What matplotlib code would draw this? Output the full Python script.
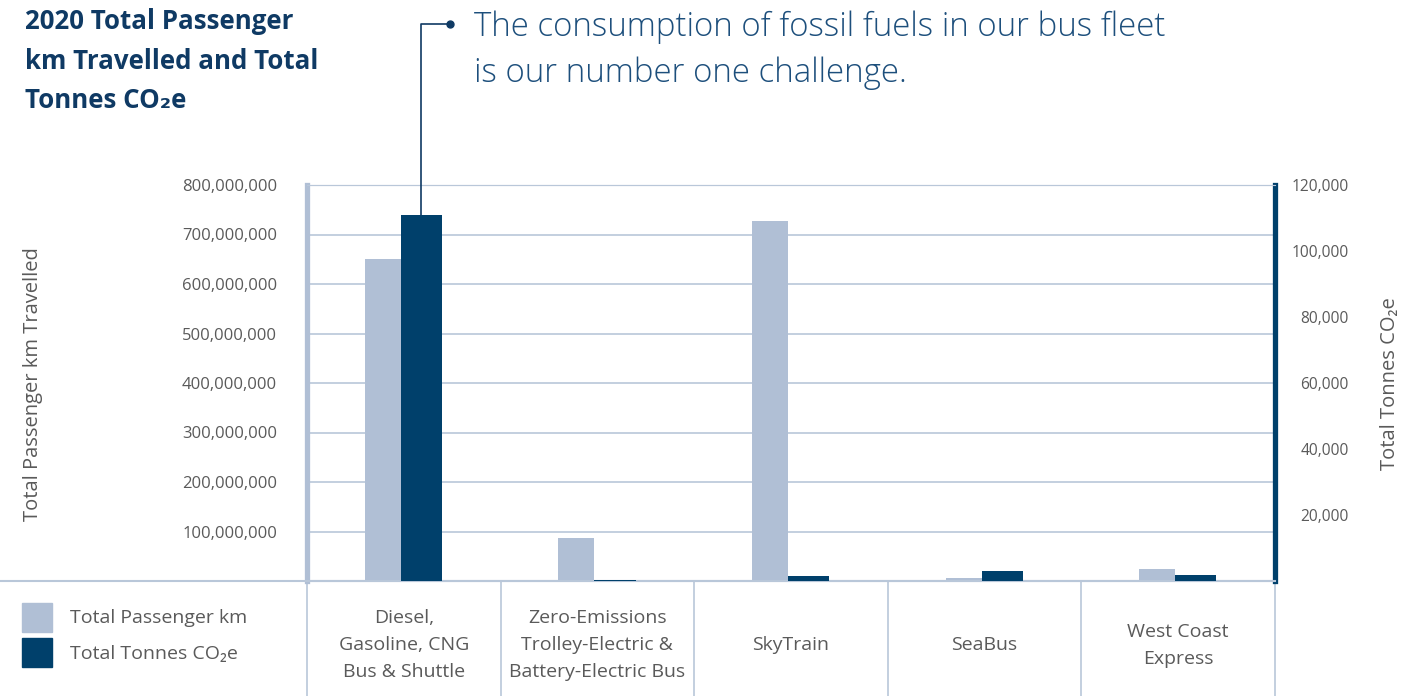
import matplotlib
matplotlib.use('Agg')
import matplotlib.pyplot as plt
from matplotlib.lines import Line2D
from matplotlib.ticker import FuncFormatter
import numpy as np

plt.rcParams['font.family'] = ['Open Sans', 'DejaVu Sans']

categories = ['Diesel,\nGasoline, CNG\nBus & Shuttle',
              'Zero-Emissions\nTrolley-Electric &\nBattery-Electric Bus',
              'SkyTrain', 'SeaBus', 'West Coast\nExpress']
passenger_km = [650e6, 87e6, 727e6, 6e6, 24e6]
tonnes_co2e = [111000, 400, 1600, 3100, 1800]
left_ticks = [100e6, 200e6, 300e6, 400e6, 500e6, 600e6, 700e6, 800e6]
right_ticks = [20000, 40000, 60000, 80000, 100000, 120000]

light = '#b0bfd5'
dark = '#00406b'
grid_c = '#b9c7d9'
gray = '#5a5a5a'
navy = '#0f3a64'

W, H = 1401, 696
fig = plt.figure(figsize=(W / 100, H / 100), dpi=100)
ax = fig.add_axes([307 / W, 1 - 581 / H, 968 / W, 396 / H])
ax2 = ax.twinx()

x = np.arange(len(categories)) + 0.5
xb = x - 0.015
ax.bar(xb, passenger_km, width=-0.186, align='edge', color=light, zorder=3)
ax2.bar(xb, tonnes_co2e, width=0.212, align='edge', color=dark, zorder=3)

ax.set_xlim(0, 5)
ax.set_ylim(0, 800e6)
ax2.set_ylim(0, 120000)
ax.set_xticks([])

ax.set_yticks(left_ticks)
ax.yaxis.set_major_formatter(FuncFormatter(lambda v, p: f'{int(v):,}'))
ax2.set_yticks(right_ticks)
ax2.yaxis.set_major_formatter(FuncFormatter(lambda v, p: f'{int(v):,}'))
ax.tick_params(axis='y', length=0, pad=21.5, labelsize=12, labelcolor=gray)
ax2.tick_params(axis='y', length=0, pad=53, labelsize=11.2, labelcolor=gray)
for t in ax2.get_yticklabels():
    t.set_horizontalalignment('right')

ax.grid(axis='y', color=grid_c, linewidth=1.2, zorder=0)
ax.set_axisbelow(True)

for a in (ax, ax2):
    a.spines['top'].set_color(grid_c)
    a.spines['bottom'].set_color(grid_c)
    a.spines['bottom'].set_linewidth(1.5)
    a.spines['left'].set_visible(False)
    a.spines['right'].set_visible(False)
ax2.spines['left'].set_visible(True)
ax2.spines['left'].set_color(light)
ax2.spines['left'].set_linewidth(3.8)
ax2.spines['right'].set_visible(True)
ax2.spines['right'].set_color(dark)
ax2.spines['right'].set_linewidth(3.8)

# category dividers below the plot
ax.vlines(np.arange(len(categories) + 1), -0.3, 0, transform=ax.get_xaxis_transform(),
          color=grid_c, linewidth=1.2, clip_on=False)
fig.add_artist(Line2D([0, 307 / W], [1 - 581 / H] * 2, color=grid_c, linewidth=1.5))

for xi, name in zip(x, categories):
    ax.text(xi, -0.162, name, transform=ax.get_xaxis_transform(), ha='center', va='center',
            fontsize=14, color=gray, linespacing=1.64)

# axis titles
fig.text(33 / W, 1 - 384 / H, 'Total Passenger km Travelled', rotation=90,
         ha='center', va='center', fontsize=14.5, color=gray)
fig.text(1390 / W, 1 - 384 / H, 'Total Tonnes CO\u2082e', rotation=90,
         ha='center', va='center', fontsize=14.5, color=gray)

# legend
fig.patches.append(plt.Rectangle((22 / W, 1 - 632 / H), 30 / W, 29 / H,
                                 transform=fig.transFigure, color=light))
fig.patches.append(plt.Rectangle((22 / W, 1 - 667 / H), 30 / W, 29 / H,
                                 transform=fig.transFigure, color=dark))
fig.text(70 / W, 1 - 618 / H, 'Total Passenger km', fontsize=14, color=gray, va='center')
fig.text(70 / W, 1 - 654 / H, 'Total Tonnes CO\u2082e', fontsize=14, color=gray, va='center')

# title
fig.text(25 / W, 1 - 8 / H, '2020 Total Passenger\nkm Travelled and Total\nTonnes CO\u2082e',
         fontsize=18.6, fontweight='bold', color=navy, va='top', linespacing=1.6)

# callout
ax2.annotate('', xy=(xb[0] + 0.106, tonnes_co2e[0]), xytext=(450 / W, 1 - 24 / H),
             textcoords='figure fraction',
             arrowprops=dict(arrowstyle='-', color=navy, linewidth=1.2,
                             connectionstyle='angle,angleA=0,angleB=90,rad=0',
                             shrinkA=0, shrinkB=0))
fig.add_artist(Line2D([450 / W], [1 - 24 / H], marker='o', markersize=5, color=navy))
fig.text(474 / W, 1 - 11 / H,
         'The consumption of fossil fuels in our bus fleet\nis our number one challenge.',
         fontsize=23.8, fontweight='light', color='#1d4f7c', va='top', linespacing=1.48)

fig.savefig('out.png', dpi=100)
